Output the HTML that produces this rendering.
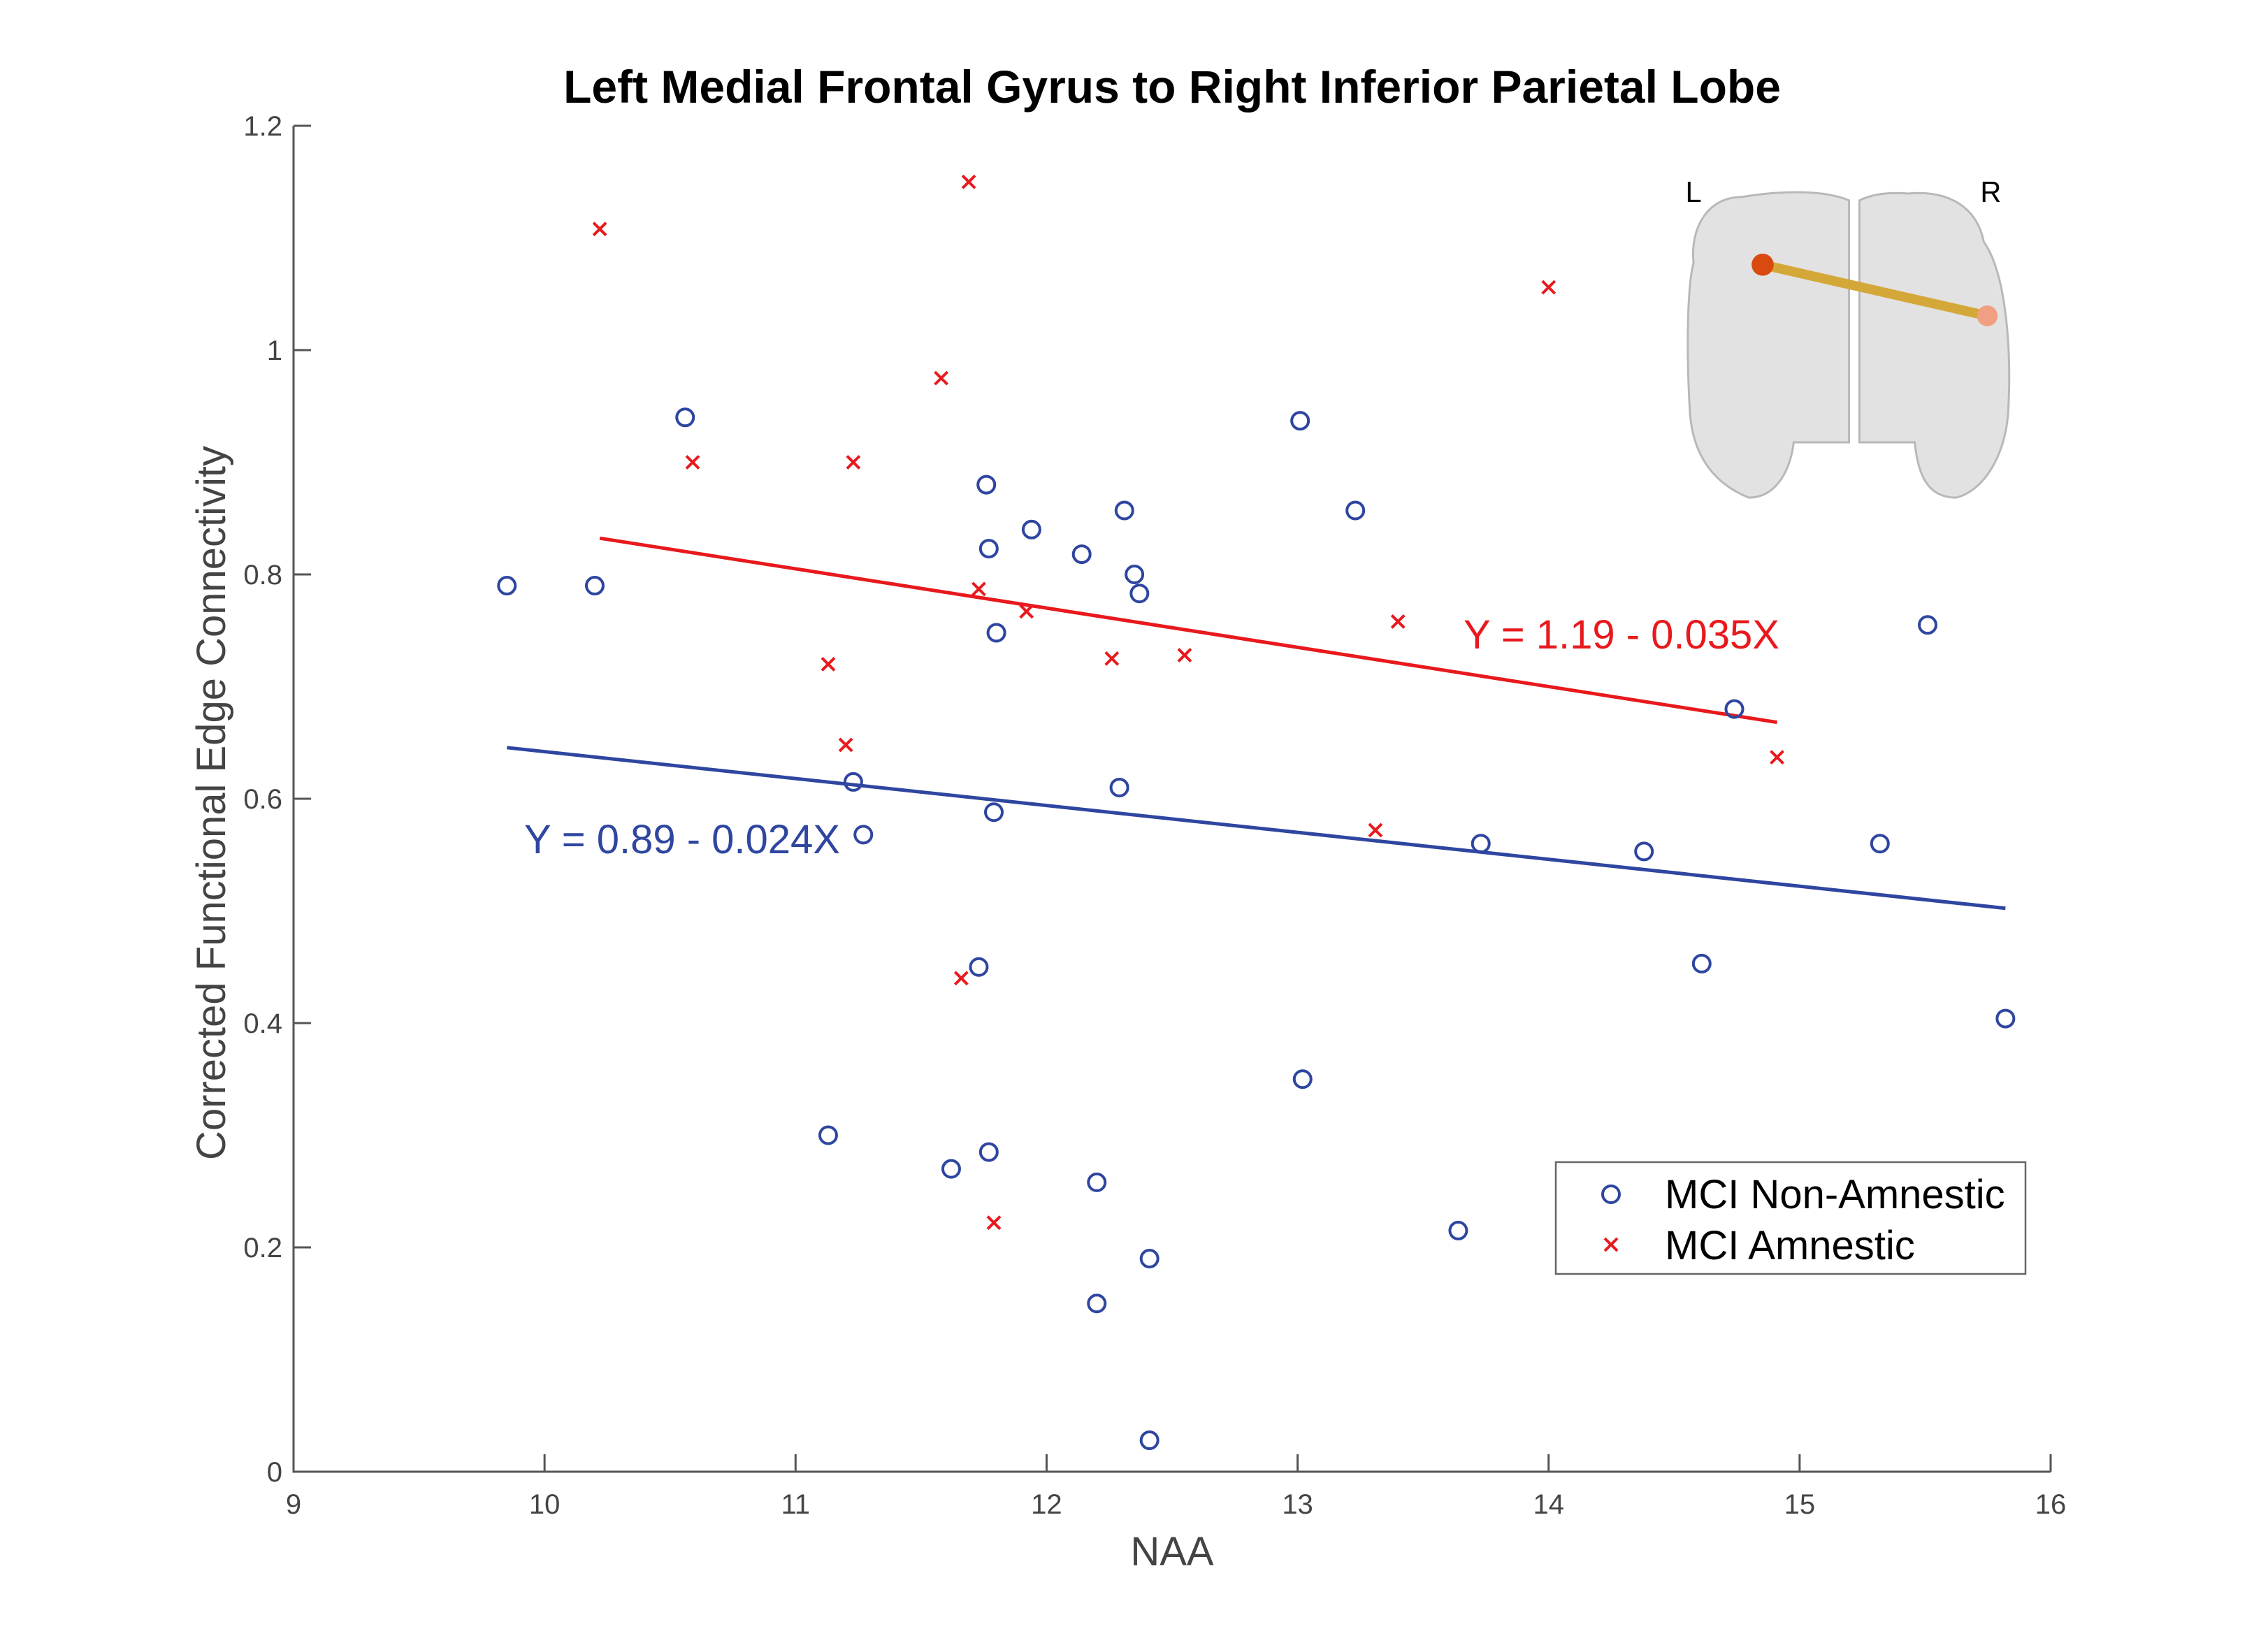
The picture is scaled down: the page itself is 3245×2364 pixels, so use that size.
<!DOCTYPE html>
<html><head><meta charset="utf-8"><style>
html,body{margin:0;padding:0;background:#fff;}
svg{display:block;font-family:"Liberation Sans",Arial,sans-serif;}
</style></head><body>
<svg id="chart" width="3245" height="2364" viewBox="0 0 3245 2364">
<rect width="3245" height="2364" fill="#fff"/>
<text x="1677" y="147" text-anchor="middle" font-size="66" font-weight="bold" fill="#000">Left Medial Frontal Gyrus to Right Inferior Parietal Lobe</text>
<g id="axes"></g>
<g id="lines"></g>
<g id="marks"></g>
<text x="2094" y="928" font-size="58" fill="#e8191d">Y = 1.19 - 0.035X</text>
<text x="750" y="1221" font-size="58" fill="#2f46a0">Y = 0.89 - 0.024X</text>
<text x="1677" y="2240" text-anchor="middle" font-size="58" fill="#444">NAA</text>
<text transform="translate(322,1149) rotate(-90)" text-anchor="middle" font-size="58" fill="#444">Corrected Functional Edge Connectivity</text>
<g transform="scale(0.989)">
<text x="2450" y="292" text-anchor="middle" font-size="42" fill="#000">L</text>
<text x="2880" y="292" text-anchor="middle" font-size="42" fill="#000">R</text>
<path d="M2520,285 C2470,285 2445,330 2450,380 C2440,420 2440,520 2445,600 C2450,660 2480,700 2530,720 C2570,720 2590,680 2595,640 L2675,640 L2675,290 C2640,275 2580,275 2520,285 Z" fill="#e2e2e2" stroke="#b8b8b8" stroke-width="3"/>
<path d="M2760,280 C2820,275 2860,300 2870,350 C2905,400 2910,520 2905,600 C2900,660 2870,710 2830,720 C2790,720 2775,690 2770,640 L2690,640 L2690,290 C2710,280 2735,278 2760,280 Z" fill="#e2e2e2" stroke="#b8b8b8" stroke-width="3"/>
<line x1="2550" y1="383" x2="2875" y2="457" stroke="#d4a838" stroke-width="14"/>
<circle cx="2550" cy="383" r="16" fill="#d84a10"/>
<circle cx="2875" cy="457" r="15" fill="#f0a080"/>
</g>
<g>
<rect x="2226" y="1663" width="672" height="160" fill="#fff" stroke="#666" stroke-width="2.5"/>
<circle cx="2305" cy="1709" r="12" fill="none" stroke="#2f46a0" stroke-width="4"/>
<text x="2382" y="1729" font-size="58" fill="#000">MCI Non-Amnestic</text>
<path d="M2296,1772 L2314,1790 M2314,1772 L2296,1790" stroke="#e8191d" stroke-width="4"/>
<text x="2382" y="1802" font-size="58" fill="#000">MCI Amnestic</text>
</g>
</svg>
<script>
const xTicks = [9,10,11,12,13,14,15,16];
const yTicks = [0,0.2,0.4,0.6,0.8,1,1.2];
const yTickLabels = ["0","0.2","0.4","0.6","0.8","1","1.2"];
const nonAmnesticX = [9.85,10.2,10.56,11.13,11.23,11.27,11.62,11.73,11.76,11.77,11.77,11.79,11.8,11.94,12.14,12.2,12.2,12.29,12.31,12.35,12.37,12.41,12.41,13.01,13.02,13.23,13.64,13.73,14.38,14.61,14.74,15.32,15.51,15.82];
const nonAmnesticY = [0.79,0.79,0.94,0.30,0.615,0.568,0.27,0.45,0.88,0.823,0.285,0.588,0.748,0.84,0.818,0.258,0.15,0.61,0.857,0.8,0.783,0.19,0.028,0.937,0.35,0.857,0.215,0.56,0.553,0.453,0.68,0.56,0.755,0.404];
const amnesticX = [10.22,10.59,11.13,11.2,11.23,11.58,11.66,11.69,11.73,11.79,11.92,12.26,12.55,13.31,13.4,14.0,14.91];
const amnesticY = [1.108,0.9,0.72,0.648,0.9,0.975,0.44,1.15,0.787,0.222,0.767,0.725,0.728,0.572,0.758,1.056,0.637];
const blueFit = [0.882,-0.024];
const blueRange = [9.85,15.82];
const redFit = [1.19,-0.035];
const redRange = [10.22,14.91];

const NS='http://www.w3.org/2000/svg';
const X0=420,X1=2934,Y0=2106,Y1=180;
function sx(v){return X0+(v-9)/(16-9)*(X1-X0);}
function sy(v){return Y0-(v-0)/(1.2-0)*(Y0-Y1);}
function mk(tag,attrs,parent){const e=document.createElementNS(NS,tag);for(const k in attrs)e.setAttribute(k,attrs[k]);parent.appendChild(e);return e;}
const axes=document.getElementById('axes');
let e=mk('path',{d:`M${X0},${Y1} L${X0},${Y0} L${X1},${Y0}`,fill:'none',stroke:'#555','stroke-width':3},axes);


xTicks.forEach(t=>{
  const l=mk('line',{x1:sx(t),x2:sx(t),y1:Y0,y2:Y0-25,stroke:'#555','stroke-width':3},axes);
  
  
  const tx=mk('text',{x:sx(t),y:2166,'text-anchor':'middle','font-size':40,fill:'#444'},axes);
  tx.textContent=String(t);
  
  
});
yTicks.forEach((t,i)=>{
  const l=mk('line',{x1:X0,x2:X0+25,y1:sy(t),y2:sy(t),stroke:'#555','stroke-width':3},axes);
  
  
  const tx=mk('text',{x:404,y:sy(t)+14,'text-anchor':'end','font-size':40,fill:'#444'},axes);
  tx.textContent=yTickLabels[i];
  
  
});
const lines=document.getElementById('lines');
let bl=mk('line',{x1:sx(blueRange[0]),y1:sy(blueFit[0]+blueFit[1]*blueRange[0]),x2:sx(blueRange[1]),y2:sy(blueFit[0]+blueFit[1]*blueRange[1]),stroke:'#2f46a0','stroke-width':5},lines);


let rl=mk('line',{x1:sx(redRange[0]),y1:sy(redFit[0]+redFit[1]*redRange[0]),x2:sx(redRange[1]),y2:sy(redFit[0]+redFit[1]*redRange[1]),stroke:'#e8191d','stroke-width':5},lines);


const marks=document.getElementById('marks');
nonAmnesticX.forEach((x,i)=>{
  const c=mk('circle',{cx:sx(x),cy:sy(nonAmnesticY[i]),r:12,fill:'none',stroke:'#2f46a0','stroke-width':4},marks);
  
  
});
amnesticX.forEach((x,i)=>{
  const cx=sx(x),cy=sy(amnesticY[i]);
  const p=mk('path',{d:`M${cx-9},${cy-9} L${cx+9},${cy+9} M${cx+9},${cy-9} L${cx-9},${cy+9}`,stroke:'#e8191d','stroke-width':4},marks);
  
  
});
</script>
</body></html>
